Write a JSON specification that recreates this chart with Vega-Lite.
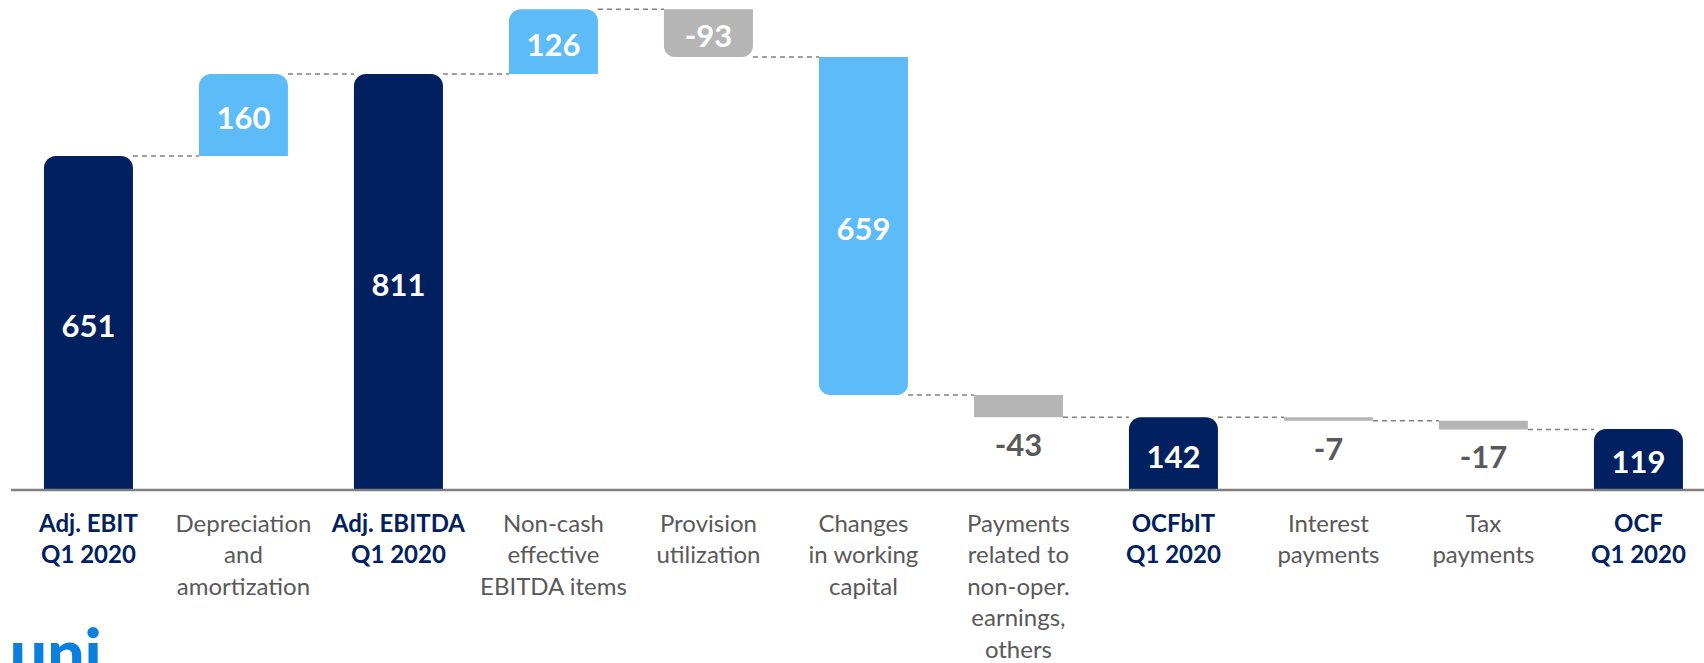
{
  "$schema": "https://vega.github.io/schema/vega-lite/v6.json",
  "width": 1693,
  "height": 490,
  "autosize": {"type": "none"},
  "padding": {"left": 11, "top": 0, "right": 0, "bottom": 173},
  "background": "white",
  "config": {"view": {"stroke": null}, "font": "Lato"},
  "title": {"text": "uni", "orient": "bottom", "anchor": "start", "font": "Lato", "fontSize": 66, "fontWeight": 900, "color": "#0B7FDE", "offset": -37},
  "data": {
    "values": [
      {"order": 1, "category": "Adj. EBIT\nQ1 2020", "type": "Total", "start": 0, "end": 651, "value": 651},
      {"order": 2, "category": "Depreciation\nand\namortization", "type": "Adjustment", "start": 651, "end": 811, "value": 160},
      {"order": 3, "category": "Adj. EBITDA\nQ1 2020", "type": "Total", "start": 0, "end": 811, "value": 811},
      {"order": 4, "category": "Non-cash\neffective\nEBITDA items", "type": "Adjustment", "start": 811, "end": 937, "value": 126},
      {"order": 5, "category": "Provision\nutilization", "type": "Deduction", "start": 937, "end": 844, "value": -93},
      {"order": 6, "category": "Changes\nin working\ncapital", "type": "Adjustment", "start": 844, "end": 185, "value": 659},
      {"order": 7, "category": "Payments\nrelated to\nnon-oper.\nearnings,\nothers", "type": "Deduction", "start": 185, "end": 142, "value": -43},
      {"order": 8, "category": "OCFbIT\nQ1 2020", "type": "Total", "start": 0, "end": 142, "value": 142},
      {"order": 9, "category": "Interest\npayments", "type": "Deduction", "start": 142, "end": 135, "value": -7},
      {"order": 10, "category": "Tax\npayments", "type": "Deduction", "start": 135, "end": 118, "value": -17},
      {"order": 11, "category": "OCF\nQ1 2020", "type": "Total", "start": 0, "end": 119, "value": 119}
    ]
  },
  "layer": [
    {
      "transform": [
        {"window": [{"op": "lead", "field": "category", "as": "next"}], "sort": [{"field": "order"}]},
        {"filter": "datum.next != null"}
      ],
      "mark": {"type": "rule", "color": "#808080", "strokeWidth": 1.5, "strokeDash": [5, 4]},
      "encoding": {
        "x": {"field": "category", "type": "nominal", "sort": null, "bandPosition": 1},
        "x2": {"field": "next", "bandPosition": 0},
        "y": {"field": "end", "type": "quantitative", "scale": {"domain": [0, 955], "nice": false}, "axis": null}
      }
    },
    {
      "transform": [{"filter": "datum.end > datum.start"}],
      "mark": {"type": "bar", "cornerRadiusTopLeft": 12, "cornerRadiusTopRight": 12},
      "encoding": {
        "x": {
          "field": "category", "type": "nominal", "sort": null, "title": null,
          "scale": {"paddingInner": 0.4258, "paddingOuter": 0.1742, "align": 0.61},
          "axis": {
            "domain": false, "ticks": false, "labelAngle": 0, "labelAlign": "center", "labelFont": "Lato", "labelFontSize": 24,
            "labelLineHeight": 31.5, "labelPadding": 22, "labelLimit": 300, "labelBaseline": "top",
            "labelExpr": "split(datum.label, '\\n')",
            "labelColor": {"condition": {"test": "indexof(datum.value, 'Q1 2020') >= 0", "value": "#002060"}, "value": "#595959"},
            "labelFontWeight": {"condition": {"test": "indexof(datum.value, 'Q1 2020') >= 0", "value": "bold"}, "value": "normal"}
          }
        },
        "y": {"field": "start", "type": "quantitative", "scale": {"domain": [0, 955], "nice": false}, "axis": null},
        "y2": {"field": "end"},
        "color": {"field": "type", "type": "nominal", "scale": {"domain": ["Total", "Adjustment", "Deduction"], "range": ["#002060", "#5DBBF8", "#B5B5B5"]}, "legend": null}
      }
    },
    {
      "transform": [{"filter": "datum.end < datum.start && abs(datum.value) >= 50"}],
      "mark": {"type": "bar", "cornerRadiusBottomLeft": 11, "cornerRadiusBottomRight": 11},
      "encoding": {
        "x": {"field": "category", "type": "nominal", "sort": null},
        "y": {"field": "start", "type": "quantitative", "axis": null},
        "y2": {"field": "end"},
        "color": {"field": "type", "type": "nominal", "legend": null}
      }
    },
    {
      "transform": [{"filter": "datum.end < datum.start && abs(datum.value) < 50"}],
      "mark": {"type": "bar"},
      "encoding": {
        "x": {"field": "category", "type": "nominal", "sort": null},
        "y": {"field": "start", "type": "quantitative", "axis": null},
        "y2": {"field": "end"},
        "color": {"field": "type", "type": "nominal", "legend": null}
      }
    },
    {
      "transform": [{"filter": "datum.order == 1"}],
      "mark": {"type": "rule", "color": "#7F7F7F", "strokeWidth": 2.5},
      "encoding": {"y": {"datum": 0, "type": "quantitative"}}
    },
    {
      "transform": [
        {"filter": "abs(datum.value) >= 50"},
        {"fold": ["start", "end"], "as": ["k", "v"]}
      ],
      "mark": {"type": "text", "font": "Lato", "fontSize": 31, "fontWeight": "bold", "color": "white", "baseline": "middle", "dy": 5},
      "encoding": {
        "x": {"field": "category", "type": "nominal", "sort": null},
        "y": {"field": "v", "aggregate": "mean", "type": "quantitative"},
        "text": {"field": "value", "type": "nominal"}
      }
    },
    {
      "transform": [{"filter": "abs(datum.value) < 50"}],
      "mark": {"type": "text", "font": "Lato", "fontSize": 31, "fontWeight": "bold", "color": "#595959", "baseline": "middle", "dy": 30},
      "encoding": {
        "x": {"field": "category", "type": "nominal", "sort": null},
        "y": {"field": "end", "type": "quantitative"},
        "text": {"field": "value", "type": "nominal"}
      }
    }
  ]
}
